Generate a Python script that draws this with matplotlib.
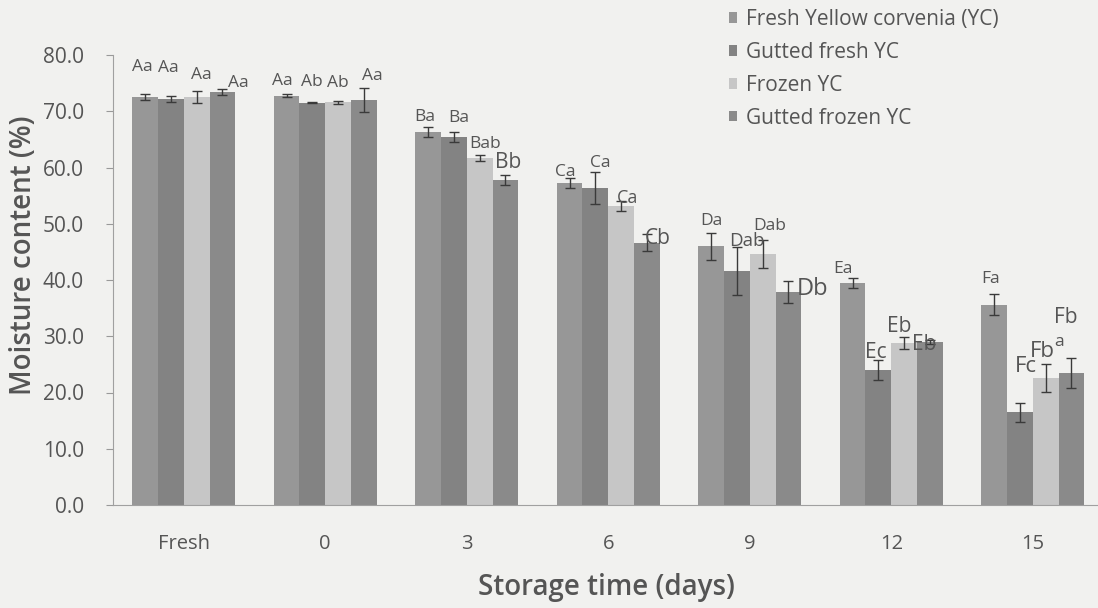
import matplotlib
matplotlib.use("Agg")
import matplotlib.pyplot as plt
import numpy as np

# ---- data ----
categories = ["Fresh", "0", "3", "6", "9", "12", "15"]
series_names = ["Fresh Yellow corvenia (YC)", "Gutted fresh YC", "Frozen YC", "Gutted frozen YC"]
fresh_yc = [72.5, 72.8, 66.3, 57.2, 46.0, 39.5, 35.6]
gutted_fresh_yc = [72.2, 71.5, 65.4, 56.4, 41.6, 24.0, 16.5]
frozen_yc = [72.5, 71.6, 61.7, 53.2, 44.6, 28.8, 22.6]
gutted_frozen_yc = [73.4, 72.0, 57.8, 46.6, 37.9, 29.0, 23.5]
fresh_err = [0.5, 0.3, 0.9, 0.9, 2.4, 0.9, 1.9]
gutted_fresh_err = [0.6, 0.1, 0.9, 2.8, 4.2, 1.8, 1.7]
frozen_err = [1.1, 0.3, 0.5, 0.9, 2.5, 1.1, 2.5]
gutted_frozen_err = [0.5, 2.1, 0.9, 1.5, 1.9, 0.3, 2.7]
fresh_lbl = ["Aa", "Aa", "Ba", "Ca", "Da", "Ea", "Fa"]
gutted_fresh_lbl = ["Aa", "Ab", "Ba", "Ca", "Dab", "Ec", "Fc"]
frozen_lbl = ["Aa", "Ab", "Bab", "Ca", "Dab", "Eb", "Fb"]
gutted_frozen_lbl = ["Aa", "Aa", "Bb", "Cb", "Db", "Eb", "Fb"]
yticks = [0, 10, 20, 30, 40, 50, 60, 70, 80]

values = [fresh_yc, gutted_fresh_yc, frozen_yc, gutted_frozen_yc]
errors = [fresh_err, gutted_fresh_err, frozen_err, gutted_frozen_err]
labels = [fresh_lbl, gutted_fresh_lbl, frozen_lbl, gutted_frozen_lbl]

# ---- style ----
FONT = ["Open Sans", "DejaVu Sans"]
plt.rcParams["font.family"] = FONT
TXT = "#555555"
BG = "#f1f1ef"
colors = ["#979797", "#838383", "#c6c6c6", "#8a8a8a"]

# label offsets in pixels (dx, dy) relative to bar centre / error-bar top, per series per group
offsets = [
    [(-3, 27), (-4, 13), (-3, 10), (-4, 6), (0, 12), (-10, 9), (-4, 15)],
    [(-3, 28), (-1, 20), (5, 14), (5, 9), (10, 6), (-3, 7), (6, 36)],
    [(5, 16), (0, 18), (5, 11), (6, 3), (7, 14), (-5, 10), (-3, 12)],
    [(16, 6), (8, 12), (3, 12), (11, -4), (24, -8), (-6, -4), (-6, 40)],
]
sizes = [
    [12.5, 12.5, 12.5, 12.5, 12.5, 12.5, 12.5],
    [12.5, 12.5, 12.5, 12.5, 13.5, 15, 16],
    [12.5, 12.5, 12.5, 13, 12.5, 15, 16],
    [12.5, 12.5, 15, 15, 17, 15, 15],
]

W, H = 1098, 608
fig = plt.figure(figsize=(W / 100, H / 100), dpi=100, facecolor=BG)
ax = fig.add_axes([113 / W, (H - 505) / H, 990.5 / W, 450 / H], facecolor=BG)

x = np.arange(len(categories))
bw = 0.182
for i in range(4):
    pos = x + (i - 1.5) * bw
    ax.bar(pos, values[i], width=bw, color=colors[i], label=series_names[i], zorder=2)
    ax.errorbar(pos, values[i], yerr=errors[i], fmt="none", ecolor="#3a3a3a",
                elinewidth=1.0, capsize=3.5, capthick=1.0, zorder=3)
    for j in range(len(categories)):
        top = values[i][j] + errors[i][j]
        ax.annotate(labels[i][j], xy=(pos[j], top), xytext=offsets[i][j],
                    textcoords="offset pixels", ha="center", va="center",
                    fontsize=sizes[i][j], color=TXT, zorder=4)
# stray superscript in the original figure
ax.annotate("a", xy=(x[6] + 0.5 * bw, frozen_yc[6] + frozen_err[6]), xytext=(13, 22),
            textcoords="offset pixels", ha="center", va="center", fontsize=12.5, color=TXT)

ax.set_xlim(-0.5, len(categories) - 0.5)
ax.set_ylim(0, 80)
ax.set_yticks(yticks)
ax.set_yticklabels([f"{v:.1f}" for v in yticks])
ax.set_xticks(x)
ax.set_xticklabels(categories)
ax.tick_params(axis="y", direction="out", length=5, width=0.8, color="#999999",
               labelsize=15, labelcolor=TXT, pad=16)
ax.tick_params(axis="x", length=0, labelsize=14.5, labelcolor=TXT, pad=21)
for s in ["top", "right"]:
    ax.spines[s].set_visible(False)
for s in ["left", "bottom"]:
    ax.spines[s].set_color("#a0a0a0")
    ax.spines[s].set_linewidth(0.8)

ax.set_ylabel("Moisture content (%)", fontsize=20, color=TXT, fontweight="semibold",
              va="center", ha="center")
ax.yaxis.set_label_coords((24 - 113) / 990.5, (505 - 255) / 450)
ax.set_xlabel("Storage time (days)", fontsize=20, color=TXT, fontweight="semibold",
              va="center", ha="center")
ax.xaxis.set_label_coords((606 - 113) / 990.5, (505 - 588) / 450)

leg = fig.legend(loc="upper left", bbox_to_anchor=(729 / W, 1 - 9 / H), frameon=False,
                 fontsize=15, handlelength=0.4, handleheight=0.4, handletextpad=0.4,
                 labelspacing=0.57, borderpad=0, borderaxespad=0)
for t in leg.get_texts():
    t.set_color(TXT)

fig.savefig("out.png", dpi=100, facecolor=BG)
